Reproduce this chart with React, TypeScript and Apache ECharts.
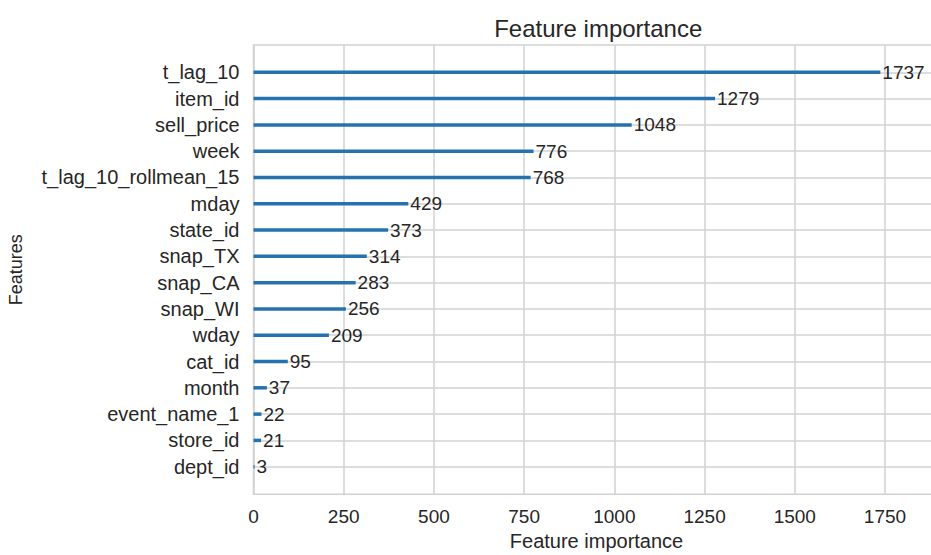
import React, { useEffect, useRef } from "react";
import * as echarts from "echarts";

const features = [
  "t_lag_10",
  "item_id",
  "sell_price",
  "week",
  "t_lag_10_rollmean_15",
  "mday",
  "state_id",
  "snap_TX",
  "snap_CA",
  "snap_WI",
  "wday",
  "cat_id",
  "month",
  "event_name_1",
  "store_id",
  "dept_id",
];
const importance = [1737, 1279, 1048, 776, 768, 429, 373, 314, 283, 256, 209, 95, 37, 22, 21, 3];
const xTicks = [0, 250, 500, 750, 1000, 1250, 1500, 1750];
const titleText = "Feature importance";
const xName = "Feature importance";
const yName = "Features";

const FONT = "'Liberation Sans', Arial, Helvetica, sans-serif";
const TEXT = "#262626";
const GRID = "#d2d2d2";
const BAR = "#2672ae";

export default function App() {
  const ref = useRef<HTMLDivElement>(null);
  useEffect(() => {
    if (!ref.current) return;
    const chart = echarts.init(ref.current, undefined, { renderer: "svg" });
    const xMax = Math.max(...importance) * 1.1;
    const plotLeft = 253.5;
    const plotRight = 943;
    const plotTop = 45;
    const plotBottom = 494.3;
    const rowTop = 72.3;
    const rowBottom = 466.7;
    const W = 960;
    const H = 555;
    chart.setOption({
      animation: false,
      backgroundColor: "#ffffff",
      textStyle: { fontFamily: FONT },
      grid: [
        {
          left: plotLeft,
          top: plotTop,
          width: plotRight - plotLeft,
          height: plotBottom - plotTop,
          show: true,
          borderColor: GRID,
          borderWidth: 1.5,
          backgroundColor: "transparent",
          containLabel: false,
        },
        {
          left: plotLeft,
          top: rowTop,
          width: plotRight - plotLeft,
          height: rowBottom - rowTop,
          containLabel: false,
        },
      ],
      xAxis: [
        {
          type: "value",
          gridIndex: 0,
          min: 0,
          max: xMax,
          interval: 250,
          axisLine: { show: false },
          axisTick: { show: false },
          splitLine: { show: true, lineStyle: { color: GRID, width: 1.5 } },
          axisLabel: {
            show: true,
            fontSize: 19,
            color: TEXT,
            fontFamily: FONT,
            margin: 13,
            showMaxLabel: false,
            formatter: (v: number) => (xTicks.includes(Math.round(v)) && Math.abs(v - Math.round(v)) < 1e-6 ? String(Math.round(v)) : ""),
          },
        },
        {
          type: "value",
          gridIndex: 1,
          min: 0,
          max: xMax,
          show: false,
          splitLine: { show: false },
        },
      ],
      yAxis: [
        {
          type: "value",
          gridIndex: 0,
          min: 0,
          max: 1,
          show: false,
          splitLine: { show: false },
        },
        {
          type: "category",
          gridIndex: 1,
          data: features,
          inverse: true,
          boundaryGap: false,
          axisLine: { show: false },
          axisTick: { show: false },
          splitLine: { show: true, lineStyle: { color: GRID, width: 1.5 } },
          axisLabel: {
            fontSize: 20,
            color: TEXT,
            fontFamily: FONT,
            margin: 14,
            interval: 0,
          },
        },
      ],
      graphic: [
        {
          type: "text",
          x: (plotLeft + plotRight) / 2,
          y: 28,
          style: {
            text: titleText,
            fontSize: 24,
            fontFamily: FONT,
            fill: TEXT,
            align: "center",
            verticalAlign: "middle",
          },
        },
        {
          type: "text",
          x: 596.5,
          y: 541,
          style: {
            text: xName,
            fontSize: 20,
            fontFamily: FONT,
            fill: TEXT,
            align: "center",
            verticalAlign: "middle",
          },
        },
        {
          type: "text",
          x: 16,
          y: (plotTop + plotBottom) / 2,
          rotation: Math.PI / 2,
          style: {
            text: yName,
            fontSize: 18,
            fontFamily: FONT,
            fill: TEXT,
            align: "center",
            verticalAlign: "middle",
          },
        },
      ],
      series: [
        {
          type: "bar",
          xAxisIndex: 1,
          yAxisIndex: 1,
          data: importance,
          barWidth: 3.5,
          itemStyle: { color: BAR },
          label: {
            show: true,
            position: "right",
            distance: 2,
            fontSize: 19,
            color: TEXT,
            fontFamily: FONT,
          },
        },
      ],
    });
    return () => chart.dispose();
  }, []);
  return (
    <div
      style={{
        position: "fixed",
        left: 0,
        top: 0,
        width: 931,
        height: 555,
        overflow: "hidden",
        background: "#ffffff",
      }}
    >
      <div ref={ref} style={{ width: 960, height: 555 }} />
    </div>
  );
}
